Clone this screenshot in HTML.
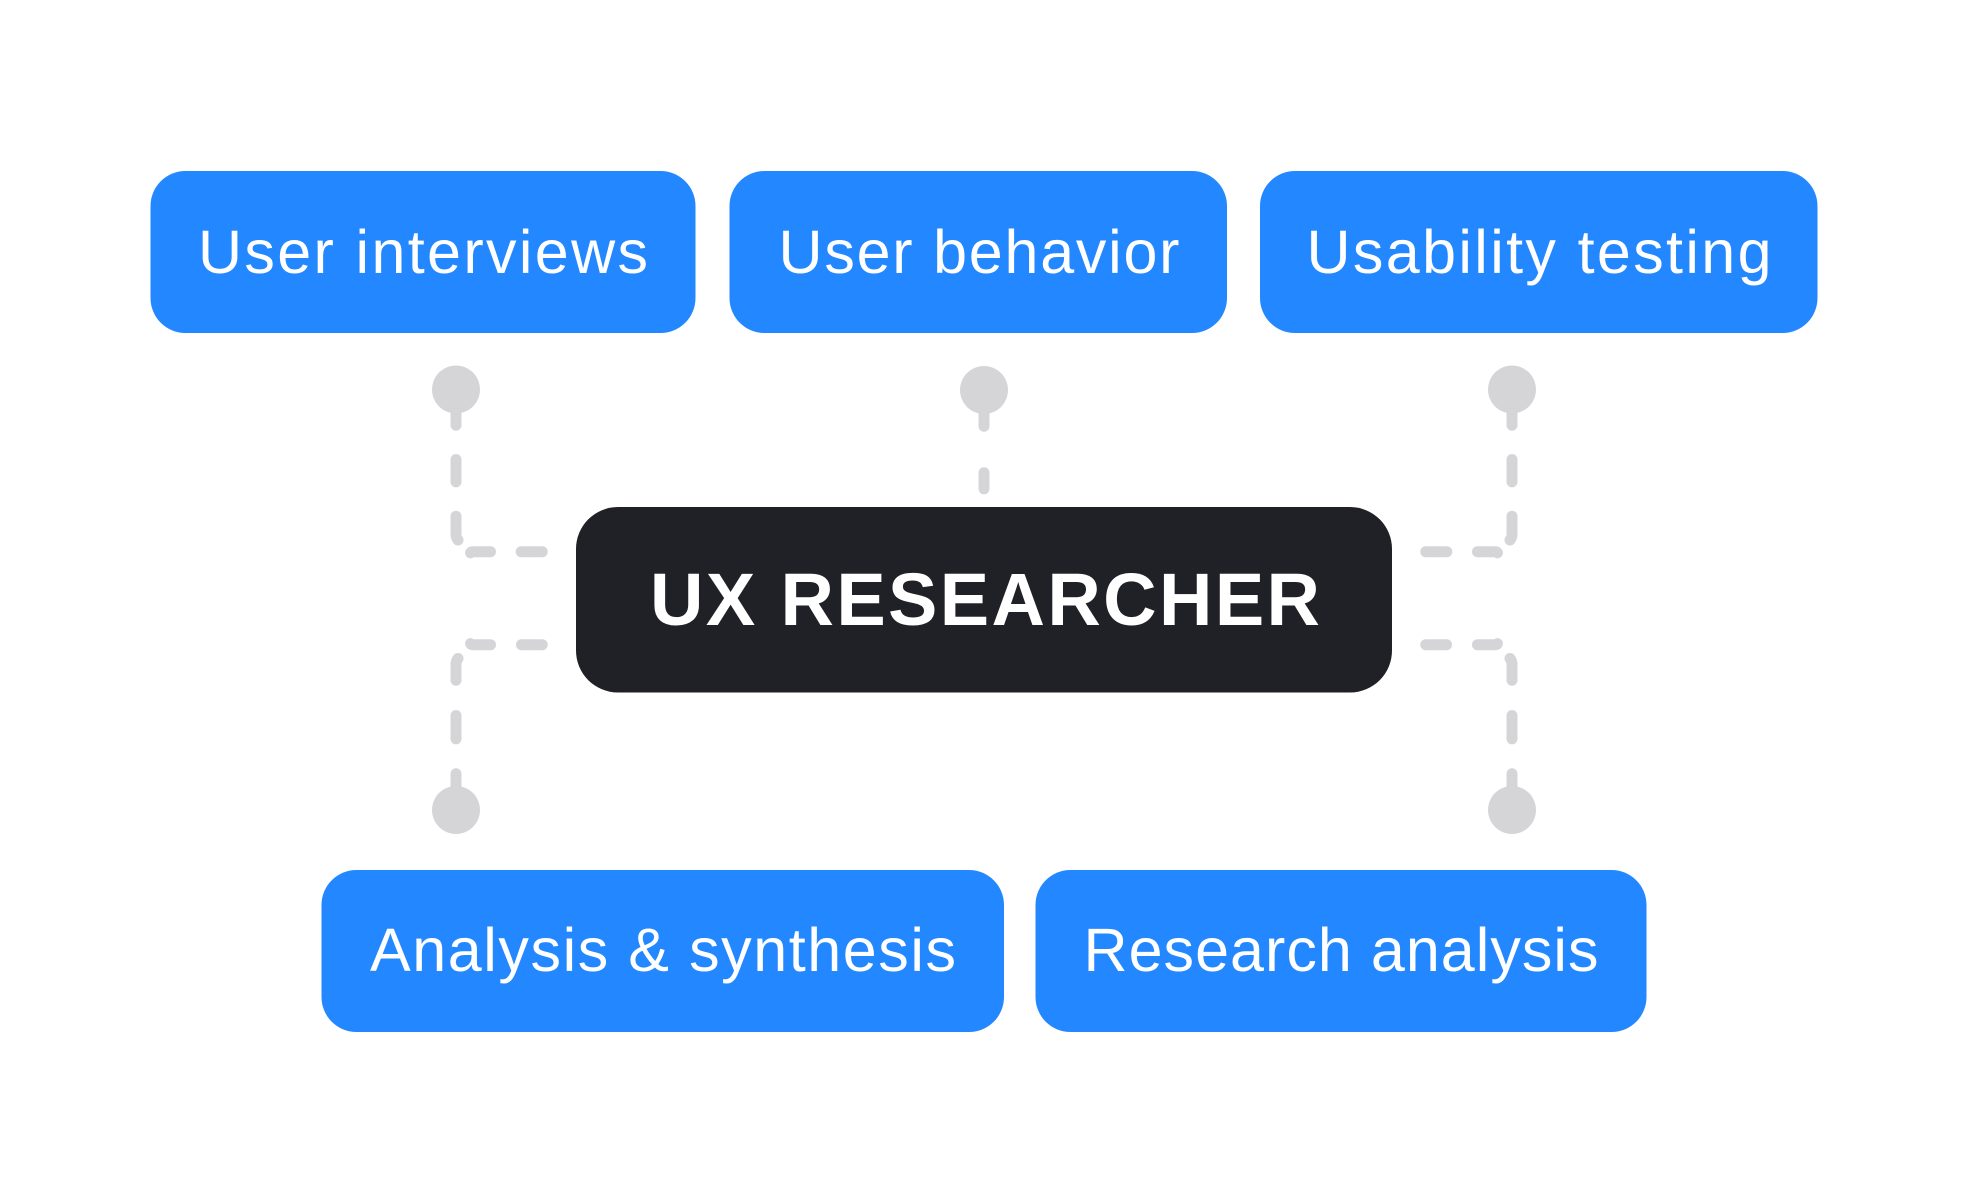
<!DOCTYPE html>
<html>
<head>
<meta charset="utf-8">
<style>
  html, body { margin: 0; padding: 0; background: #ffffff; }
  body { width: 1968px; height: 1200px; overflow: hidden; }
  svg { display: block; }
  .lbl { font-family: "Liberation Sans", Arial, sans-serif; font-size: 61px; fill: #ffffff; }
  .ctr { font-family: "Liberation Sans", Arial, sans-serif; font-size: 74px; font-weight: bold; fill: #ffffff; }
</style>
</head>
<body>
<svg width="1968" height="1200" viewBox="0 0 1968 1200" xmlns="http://www.w3.org/2000/svg">
  <rect x="0" y="0" width="1968" height="1200" fill="#ffffff"/>

  <!-- Top row boxes -->
  <rect x="150.5" y="171" width="545" height="162" rx="35" ry="35" fill="#2388FF"/>
  <rect x="729.5" y="171" width="497.5" height="162" rx="35" ry="35" fill="#2388FF"/>
  <rect x="1260" y="171" width="557.5" height="162" rx="35" ry="35" fill="#2388FF"/>

  <text class="lbl" x="423" y="273" text-anchor="middle" textLength="450" lengthAdjust="spacing">User interviews</text>
  <text class="lbl" x="979" y="273" text-anchor="middle" textLength="401" lengthAdjust="spacing">User behavior</text>
  <text class="lbl" x="1539" y="273" text-anchor="middle" textLength="465" lengthAdjust="spacing">Usability testing</text>

  <!-- Center box -->
  <rect x="576" y="507" width="816" height="185.5" rx="42" ry="42" fill="#202127"/>
  <text class="ctr" x="985" y="625" text-anchor="middle" textLength="670" lengthAdjust="spacing">UX RESEARCHER</text>

  <!-- Bottom row boxes -->
  <rect x="321.5" y="870" width="682.5" height="162" rx="35" ry="35" fill="#2388FF"/>
  <rect x="1035.5" y="870" width="611" height="162" rx="35" ry="35" fill="#2388FF"/>

  <text class="lbl" x="663" y="971" text-anchor="middle" textLength="586" lengthAdjust="spacing">Analysis &amp; synthesis</text>
  <text class="lbl" x="1341" y="971" text-anchor="middle" textLength="515" lengthAdjust="spacing">Research analysis</text>

  <!-- Connectors -->
  <g fill="#D5D5D8">
    <circle cx="456" cy="389.5" r="24"/>
    <circle cx="984" cy="390" r="24"/>
    <circle cx="1512" cy="389.5" r="24"/>
    <circle cx="456" cy="810" r="24"/>
    <circle cx="1512" cy="810" r="24"/>
  </g>
  <g stroke="#D5D5D8" stroke-width="11" stroke-linecap="round" fill="none">
    <!-- top-left -->
    <line x1="456" y1="392" x2="456" y2="425.2"/>
    <line x1="456" y1="459.5" x2="456" y2="481.8"/>
    <path d="M456 516.2 L456 535 Q456.5 538.5 458 540"/>
    <path d="M470.5 552.8 Q471 551.7 473 551.7 L490.5 551.7"/>
    <line x1="521.2" y1="551.7" x2="542.2" y2="551.7"/>

    <!-- top-middle -->
    <line x1="984" y1="392" x2="984" y2="426.2"/>
    <line x1="984" y1="472.8" x2="984" y2="488.8"/>

    <!-- top-right -->
    <line x1="1512" y1="392" x2="1512" y2="425.2"/>
    <line x1="1512" y1="459.5" x2="1512" y2="481.8"/>
    <path d="M1512 516.2 L1512 535 Q1511.5 538.5 1510 540"/>
    <path d="M1497.5 552.8 Q1497 551.7 1495 551.7 L1477.5 551.7"/>
    <line x1="1446.8" y1="551.7" x2="1425.8" y2="551.7"/>

    <!-- bottom-left -->
    <line x1="456" y1="807" x2="456" y2="773.8"/>
    <line x1="456" y1="738.8" x2="456" y2="715.5"/>
    <path d="M456 680.2 L456 663.5 Q456.5 660 458 658.5"/>
    <path d="M470.5 643.6 Q471 644.7 473 644.7 L490.5 644.7"/>
    <line x1="521.5" y1="644.7" x2="542.2" y2="644.7"/>

    <!-- bottom-right -->
    <line x1="1512" y1="807" x2="1512" y2="773.8"/>
    <line x1="1512" y1="738.8" x2="1512" y2="715.5"/>
    <path d="M1512 680.2 L1512 663.5 Q1511.5 660 1510 658.5"/>
    <path d="M1497.5 643.6 Q1497 644.7 1495 644.7 L1477.5 644.7"/>
    <line x1="1446.5" y1="644.7" x2="1425.8" y2="644.7"/>
  </g>
</svg>
</body>
</html>
